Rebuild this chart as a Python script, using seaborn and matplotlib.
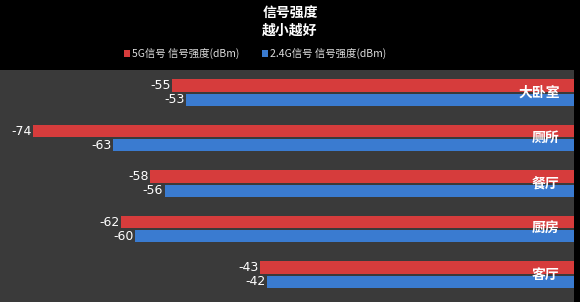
import matplotlib
matplotlib.use("Agg")
import matplotlib.pyplot as plt
import seaborn as sns
import pandas as pd
from matplotlib.patches import Patch

categories = ["大卧室", "厕所", "餐厅", "厨房", "客厅"]
series_names = ["5G信号 信号强度(dBm)", "2.4G信号 信号强度(dBm)"]
values_5g = [-55, -74, -58, -62, -43]
values_24g = [-53, -63, -56, -60, -42]
title_lines = ["信号强度", "越小越好"]

colors = ["#d63c3c", "#3a7bd0"]

df = pd.DataFrame({
    "room": categories * 2,
    "series": [series_names[0]] * len(categories) + [series_names[1]] * len(categories),
    "value": values_5g + values_24g,
})

sns.set_theme(style="dark")
plt.rcParams["font.family"] = ["Noto Sans CJK SC", "DejaVu Sans"]

W, H = 580, 302
fig = plt.figure(figsize=(W / 100, H / 100), dpi=100, facecolor="black")
ax = fig.add_axes([0, 0, 574 / W, 232 / H])
ax.set_facecolor("#3a3a3a")

sns.barplot(data=df, y="room", x="value", hue="series", order=categories,
            hue_order=series_names, palette=colors, orient="h",
            width=0.62, gap=0.12, ax=ax, legend=False, saturation=1,
            linewidth=0, edgecolor="none")

ax.set_xlim(-78.5, 0)
ax.set_ylim(4.6, -0.5)
ax.set_xlabel("")
ax.set_ylabel("")
ax.set_xticks([])
ax.set_yticks([])
for s in ax.spines.values():
    s.set_visible(False)

for cont in ax.containers:
    ax.bar_label(cont, fmt="%d", padding=1, color="white", fontsize=9,
                 family=["DejaVu Sans"])

for i, c in enumerate(categories):
    ax.text(0.975, i, c, transform=ax.get_yaxis_transform(),
            ha="right", va="center", color="white", fontsize=10,
            fontweight="bold")

fig.text(0.5, 1 - 14 / H, title_lines[0], ha="center", va="center",
         color="white", fontsize=10, fontweight="bold")
fig.text(0.5, 1 - 31 / H, title_lines[1], ha="center", va="center",
         color="white", fontsize=10, fontweight="bold")

handles = [Patch(facecolor=colors[0], edgecolor="none"),
           Patch(facecolor=colors[1], edgecolor="none")]
leg = fig.legend(handles, series_names, loc="center", ncol=2,
                 bbox_to_anchor=(0.44, 1 - 54 / H), frameon=False,
                 fontsize=7.5, labelcolor="#dddddd", handlelength=0.6,
                 handleheight=0.6, handletextpad=0.2, columnspacing=2.1)

fig.savefig("out.png", dpi=100, facecolor="black")
